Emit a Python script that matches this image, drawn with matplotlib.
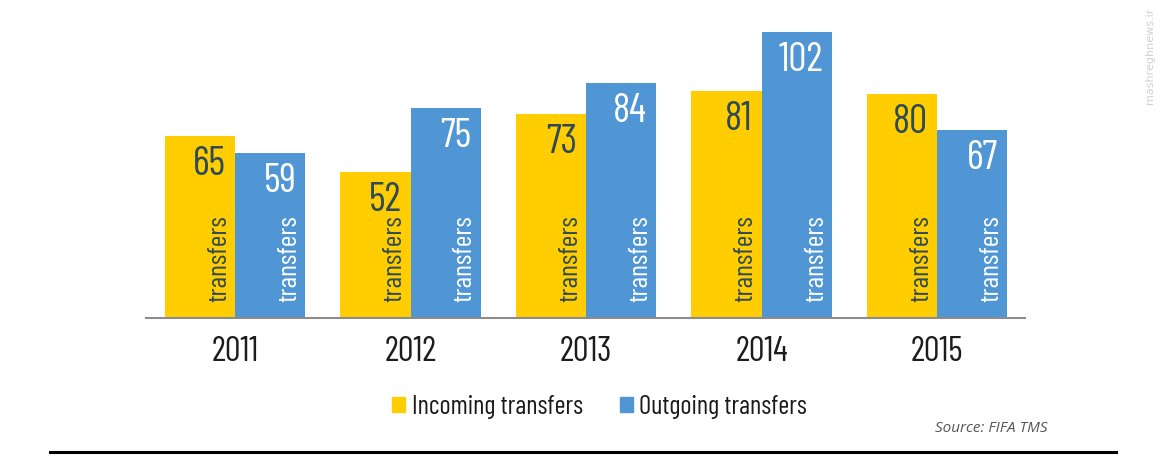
# Incoming vs outgoing transfers per year (FIFA TMS), grouped bar chart
import matplotlib
matplotlib.use("Agg")
import matplotlib.pyplot as plt
from matplotlib.lines import Line2D
from matplotlib.patches import Patch
import numpy as np

# data
years = ["2011", "2012", "2013", "2014", "2015"]
incoming = [65, 52, 73, 81, 80]
outgoing = [59, 75, 84, 102, 67]

yellow = "#FFCD00"
blue = "#5096D5"
dark_txt = "#2E4A58"
narrow = ["Barlow Condensed", "Fira Sans Extra Condensed", "DejaVu Sans"]

fig = plt.figure(figsize=(11.61, 4.76), dpi=100)
ax = fig.add_axes([146 / 1161, 158 / 476, 879 / 1161, 298 / 476])

x = np.arange(len(years))
w = 0.4
b1 = ax.bar(x - w / 2, incoming, w, color=yellow)
b2 = ax.bar(x + w / 2, outgoing, w, color=blue)

ax.set_xlim(-0.507, 4.501)
ax.set_ylim(0, 298 / 2.8)

# value on top inside the bar + vertical "transfers" at the bottom
for bars, txt_col in [(b1, dark_txt), (b2, "white")]:
    for r in bars:
        right = r.get_x() + r.get_width()
        ax.annotate(str(int(r.get_height())), xy=(right, r.get_height()),
                    xytext=(-9, -10), textcoords="offset pixels",
                    ha="right", va="top", fontsize=29, color=txt_col,
                    family=narrow)
        ax.annotate("transfers", xy=(right, 0), xytext=(-4, 16),
                    textcoords="offset pixels", rotation=90,
                    ha="right", va="bottom", fontsize=20, color=txt_col,
                    family=narrow)

# axis cosmetics
for s in ["top", "right", "left"]:
    ax.spines[s].set_visible(False)
ax.spines["bottom"].set_color("#8c8c8c")
ax.spines["bottom"].set_linewidth(1.5)
ax.set_yticks([])
ax.set_xticks(x)
ax.set_xticklabels(years, fontsize=25, color="#1c1c1c", family=narrow)
ax.tick_params(axis="x", length=0, pad=13)

# legend
handles = [Patch(color=yellow, label="Incoming transfers"),
           Patch(color=blue, label="Outgoing transfers")]
fig.legend(handles=handles, loc="center", bbox_to_anchor=(599.5 / 1161, 69 / 476),
           ncol=2, frameon=False, handlelength=0.5, handleheight=0.5,
           handletextpad=0.25, columnspacing=1.4,
           prop={"family": narrow, "size": 19}, labelcolor="#1a1a1a")

fig.text(935 / 1161, 48 / 476, "Source: FIFA TMS", fontsize=11, style="italic",
         color="#555555", ha="left", va="center", family=["Open Sans", "DejaVu Sans"])

# thick black rule at the bottom
fig.add_artist(Line2D([50 / 1161, 1116 / 1161], [24 / 476, 24 / 476],
                      transform=fig.transFigure, color="black", linewidth=2.2))

# faint watermark at top right
fig.text(1150 / 1161, 468 / 476, "mashreghnews.ir", rotation=90, fontsize=8,
         color="#d0d0d0", ha="center", va="top")

fig.savefig("out.png", dpi=100)
